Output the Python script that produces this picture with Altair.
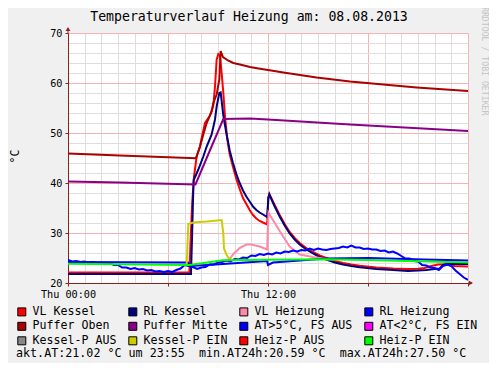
import altair as alt
import pandas as pd

MONO = "DejaVu Sans Mono"

SERIES = ["VL Kessel", "RL Kessel", "VL Heizung", "RL Heizung",
          "Puffer Oben", "Puffer Mitte", "AT>5°C, FS AUS", "AT<2°C, FS EIN",
          "Kessel-P AUS", "Kessel-P EIN", "Heiz-P AUS", "Heiz-P EIN"]
COLORS = ["#ff0000", "#000080", "#ff88aa", "#0000ff",
          "#aa0000", "#880088", "#0000ff", "#ff00ff",
          "#888888", "#cccc00", "#ff0000", "#00ff00"]

# ---- series data (hours since Thu 00:00, °C) ----
VL_KESSEL_H = [0, 7.28, 7.35, 7.45, 7.56, 7.72, 7.92, 8.02, 8.22, 8.42,
               8.52, 8.72, 8.82, 8.92, 9.02, 9.12, 9.22, 9.32, 9.42, 9.55,
               9.7, 9.9, 10.1, 10.3, 10.5, 10.7, 10.9, 11.1, 11.3, 11.5,
               11.7, 11.95, 12.02, 12.08, 12.4, 12.7, 13.0, 13.3, 13.6, 13.9,
               14.3, 14.7, 15.1, 15.5, 16.0, 16.5, 17.0, 17.5, 18.5, 19.5,
               20.4, 21.0, 21.4, 21.8, 22.2, 22.6, 23.2, 24.0]
VL_KESSEL_T = [22.1, 22.1, 28.0, 36.0, 41.3, 45.3, 47.3, 49.0, 52.0, 53.0,
               53.5, 55.5, 59.3, 64.7, 65.8, 65.5, 62.0, 58.0, 53.3, 49.0,
               45.8, 43.2, 40.8, 38.8, 37.0, 35.8, 34.6, 33.6, 32.9, 32.4,
               32.1, 31.7, 37.0, 37.8, 35.6, 33.6, 31.8, 30.2, 29.0, 28.0,
               27.0, 26.2, 25.5, 25.0, 24.4, 24.0, 23.7, 23.45, 23.1, 22.9,
               22.8, 22.85, 23.0, 23.4, 23.7, 23.7, 23.4, 23.3]

RL_KESSEL_H = [0, 7.38, 7.45, 7.5, 7.54, 7.82, 8.12, 8.32, 8.62, 8.82,
               8.92, 9.08, 9.16, 9.32, 9.5, 9.7, 9.9, 10.1, 10.3, 10.5,
               10.7, 10.9, 11.1, 11.3, 11.5, 11.7, 11.95, 12.02, 12.08, 12.4,
               12.7, 13.0, 13.3, 13.6, 13.9, 14.3, 14.7, 15.1, 15.5, 16.0,
               16.5, 17.0, 17.5, 18.5, 19.5, 20.4, 21.0, 21.5, 22.0, 22.3,
               22.5, 22.7, 24.0]
RL_KESSEL_T = [21.8, 21.8, 30.0, 36.7, 40.6, 42.7, 45.3, 47.3, 49.7, 52.7,
               55.3, 58.0, 58.1, 53.5, 50.0, 46.5, 44.0, 41.8, 40.0, 38.5,
               37.3, 36.3, 35.3, 34.6, 34.1, 33.7, 33.2, 37.0, 37.7, 35.3,
               33.3, 31.5, 29.9, 28.7, 27.7, 26.7, 25.9, 25.2, 24.7, 24.1,
               23.7, 23.4, 23.15, 22.8, 22.6, 22.4, 22.5, 22.6, 22.8, 22.9,
               23.6, 23.8, 23.8]

VL_HEIZUNG_H = [9.55, 9.75, 9.9, 10.3, 10.7, 11.0, 11.5, 11.95, 12.03, 12.15,
                12.72, 13.3, 13.9, 14.7, 15.5, 16.0]
VL_HEIZUNG_T = [24.6, 25.0, 25.7, 27.0, 27.7, 27.7, 27.3, 26.7, 34.1, 33.4,
                30.3, 27.3, 25.7, 25.2, 24.8, 24.7]

RL_HEIZUNG_H = [0, 7.2, 7.35, 9.3, 11.95, 12.0, 12.3, 15.5, 18.0, 21.4, 24.0]
RL_HEIZUNG_T = [24.2, 24.1, 23.4, 23.8, 24.4, 23.6, 24.1, 24.9, 25.0, 24.7, 24.5]

PUFFER_OBEN_H = [0, 3.1, 7.68, 7.92, 8.12, 8.32, 8.62, 8.72, 8.92, 9.08,
                 9.16, 9.3, 9.6, 9.92, 10.32, 10.92, 11.52, 12.0, 12.92, 14.92,
                 16.92, 18.92, 20.92, 24.0]
PUFFER_OBEN_T = [45.9, 45.5, 44.95, 47.3, 49.7, 52.0, 54.3, 56.0, 57.7, 60.7,
                 66.4, 65.2, 64.5, 64.0, 63.7, 63.2, 62.85, 62.6, 62.1, 61.1,
                 60.3, 59.7, 59.1, 58.4]

PUFFER_MITTE_H = [0, 3.1, 7.65, 8.5, 9.32, 10.92, 12.0, 16.92, 24.0]
PUFFER_MITTE_T = [40.3, 40.1, 39.7, 46.4, 52.8, 52.9, 52.7, 51.7, 50.4]

# outside temperature, 15-minute samples
AT_T = [24.6, 24.3, 24.4, 24.2, 24.3, 24.0, 24.2, 23.9, 24.1, 23.8,
        24.0, 23.6, 23.6, 23.1, 23.1, 22.8, 23.0, 22.7, 22.8, 22.5,
        22.6, 22.3, 22.4, 22.2, 22.4, 22.2, 22.6, 22.9, 23.6, 23.4,
        23.2, 22.8, 23.1, 23.2, 23.7, 23.7, 24.1, 24.2, 24.5, 24.3,
        24.8, 24.7, 25.1, 25.0, 25.5, 25.4, 25.8, 25.6, 25.9, 25.7,
        26.1, 25.9, 26.3, 26.2, 26.5, 26.3, 26.6, 26.5, 26.9, 26.6,
        26.9, 26.7, 26.6, 26.8, 26.9, 27.0, 27.3, 27.1, 27.5, 27.1,
        27.1, 26.8, 26.9, 26.7, 26.7, 26.4, 26.5, 26.1, 26.3, 25.9,
        25.4, 24.9, 24.9, 24.4, 24.3, 23.6, 23.5, 23.1, 23.0, 22.6,
        23.4, 23.7, 23.4, 22.5, 21.8, 21.1, 20.6]
AT_H = [i * 0.25 for i in range(len(AT_T))]

KP_EIN_H = [7.12, 7.22, 7.52, 8.32, 9.22, 9.32, 9.36, 9.52, 9.72, 9.9]
KP_EIN_T = [23.8, 31.8, 32.1, 32.3, 32.6, 29.9, 26.9, 25.6, 24.7, 24.55]

HP_EIN_H = [0, 7.3, 9.3, 12.0, 15.5, 18.0, 21.0, 24.0]
HP_EIN_T = [23.85, 23.6, 24.55, 24.65, 24.75, 24.6, 24.35, 24.1]

TITLE = "Temperaturverlauf Heizung am: 08.08.2013"
FOOTER = ("akt.AT:21.02 °C um 23:55\u00a0\u00a0min.AT24h:20.59 °C"
          "\u00a0\u00a0max.AT24h:27.50 °C")
WATERMARK = "RRDTOOL / TOBI OETIKER"

# draw order (bottom -> top)
DRAW = [
    ("VL Kessel", VL_KESSEL_H, VL_KESSEL_T),
    ("RL Kessel", RL_KESSEL_H, RL_KESSEL_T),
    ("VL Heizung", VL_HEIZUNG_H, VL_HEIZUNG_T),
    ("RL Heizung", RL_HEIZUNG_H, RL_HEIZUNG_T),
    ("Puffer Oben", PUFFER_OBEN_H, PUFFER_OBEN_T),
    ("Puffer Mitte", PUFFER_MITTE_H, PUFFER_MITTE_T),
    ("AT>5°C, FS AUS", AT_H, AT_T),
    ("Kessel-P EIN", KP_EIN_H, KP_EIN_T),
    ("Heiz-P EIN", HP_EIN_H, HP_EIN_T),
]
color_of = dict(zip(SERIES, COLORS))

frames = []
for name, hs, ts in DRAW:
    frames.append(pd.DataFrame({"series": name, "h": hs, "T": ts}))
all_df = pd.concat(frames, ignore_index=True)

AXIS_RED = "#8b2020"
MINOR = "#dedede"
MAJOR = "#f2b4b4"

x_enc = alt.X("h:Q", scale=alt.Scale(domain=[0, 24], nice=False, zero=False),
              axis=alt.Axis(values=list(range(25)), title=None,
                            labelExpr="datum.value == 0 ? 'Thu 00:00' : (datum.value == 12 ? 'Thu 12:00' : '')",
                            labelFlush=False, labelOverlap=False,
                            gridColor={"condition": {"test": "datum.value % 6 == 0", "value": MAJOR}, "value": MINOR},
                            tickColor={"condition": {"test": "datum.value % 6 == 0", "value": AXIS_RED}, "value": "transparent"},
                            tickSize=3, labelPadding=3))
y_enc = alt.Y("T:Q", scale=alt.Scale(domain=[20, 70], nice=False, zero=False),
              axis=alt.Axis(values=list(range(20, 71, 2)), title="°C",
                            labelExpr="datum.value % 10 == 0 ? datum.label : ''",
                            labelOverlap=False,
                            gridColor={"condition": {"test": "datum.value % 10 == 0", "value": MAJOR}, "value": MINOR},
                            tickColor={"condition": {"test": "datum.value % 10 == 0", "value": AXIS_RED}, "value": "transparent"},
                            tickSize=3, labelPadding=3,
                            titleX=-53, titleY=123, titleAngle=270,
                            titleAlign="center", titleBaseline="middle"))

layers = []
for name, hs, ts in DRAW:
    d = all_df[all_df["series"] == name]
    layers.append(
        alt.Chart(d).mark_line(color=color_of[name], strokeWidth=2, clip=True)
        .encode(x=x_enc, y=y_enc)
    )

legend_layer = alt.Chart(all_df).mark_point(shape="square", filled=True, opacity=0).encode(
    x=x_enc, y=y_enc,
    color=alt.Color("series:N", scale=alt.Scale(domain=SERIES, range=COLORS),
                    legend=alt.Legend(title=None, orient="none", legendX=-52, legendY=273,
                                      direction="horizontal",
                                      columns=4, symbolType="square", symbolSize=64,
                                      symbolStrokeColor="black", symbolStrokeWidth=1,
                                      labelFont=MONO, labelFontSize=11.6, labelColor="black",
                                      labelOffset=5, rowPadding=1.5, columnPadding=9,
                                      padding=0, labelLimit=300)),
)

title_layer = alt.Chart(pd.DataFrame({"t": [TITLE]})).mark_text(
    font=MONO, fontSize=13.2, color="black", align="center", baseline="middle"
).encode(x=alt.value(181), y=alt.value(-16), text="t:N")

footer_layer = alt.Chart(pd.DataFrame({"t": [FOOTER]})).mark_text(
    font=MONO, fontSize=11.7, color="black", align="left", baseline="middle"
).encode(x=alt.value(-52), y=alt.value(320), text="t:N")

wm_layer = alt.Chart(pd.DataFrame({"t": [WATERMARK]})).mark_text(
    font=MONO, fontSize=8.2, color="#c4c4c4", align="left", baseline="middle", angle=90
).encode(x=alt.value(416), y=alt.value(-26), text="t:N")

arrow_up = alt.Chart(pd.DataFrame({"a": [0]})).mark_point(
    shape="triangle-up", filled=True, color=AXIS_RED, size=22, opacity=1
).encode(x=alt.value(0), y=alt.value(-4))
arrow_right = alt.Chart(pd.DataFrame({"a": [0]})).mark_point(
    shape="triangle-right", filled=True, color=AXIS_RED, size=22, opacity=1
).encode(x=alt.value(403), y=alt.value(250))
ext_y = alt.Chart(pd.DataFrame({"a": [0]})).mark_rule(color=AXIS_RED, strokeWidth=1).encode(
    x=alt.value(0), y=alt.value(-5), y2=alt.value(0))
ext_x = alt.Chart(pd.DataFrame({"a": [0]})).mark_rule(color=AXIS_RED, strokeWidth=1).encode(
    x=alt.value(400), x2=alt.value(404), y=alt.value(250))

chart = alt.layer(
    legend_layer, *layers, title_layer, footer_layer, wm_layer,
    ext_y, ext_x, arrow_up, arrow_right
).properties(
    width=400, height=250,
    padding={"left": 60, "top": 25, "right": 21, "bottom": 80},
    autosize=alt.AutoSizeParams(type="none"),
).configure(
    background="#f0f0f0"
).configure_view(
    fill="white", strokeWidth=0
).configure_axis(
    labelFont=MONO, labelFontSize=10.2, labelColor="black",
    domainColor=AXIS_RED, domainWidth=1,
    titleFont=MONO, titleFontSize=11.5, titleFontWeight="normal", titleColor="black",
    gridWidth=1,
)

chart.save("out.html", embed_options={"renderer": "svg", "actions": False})
